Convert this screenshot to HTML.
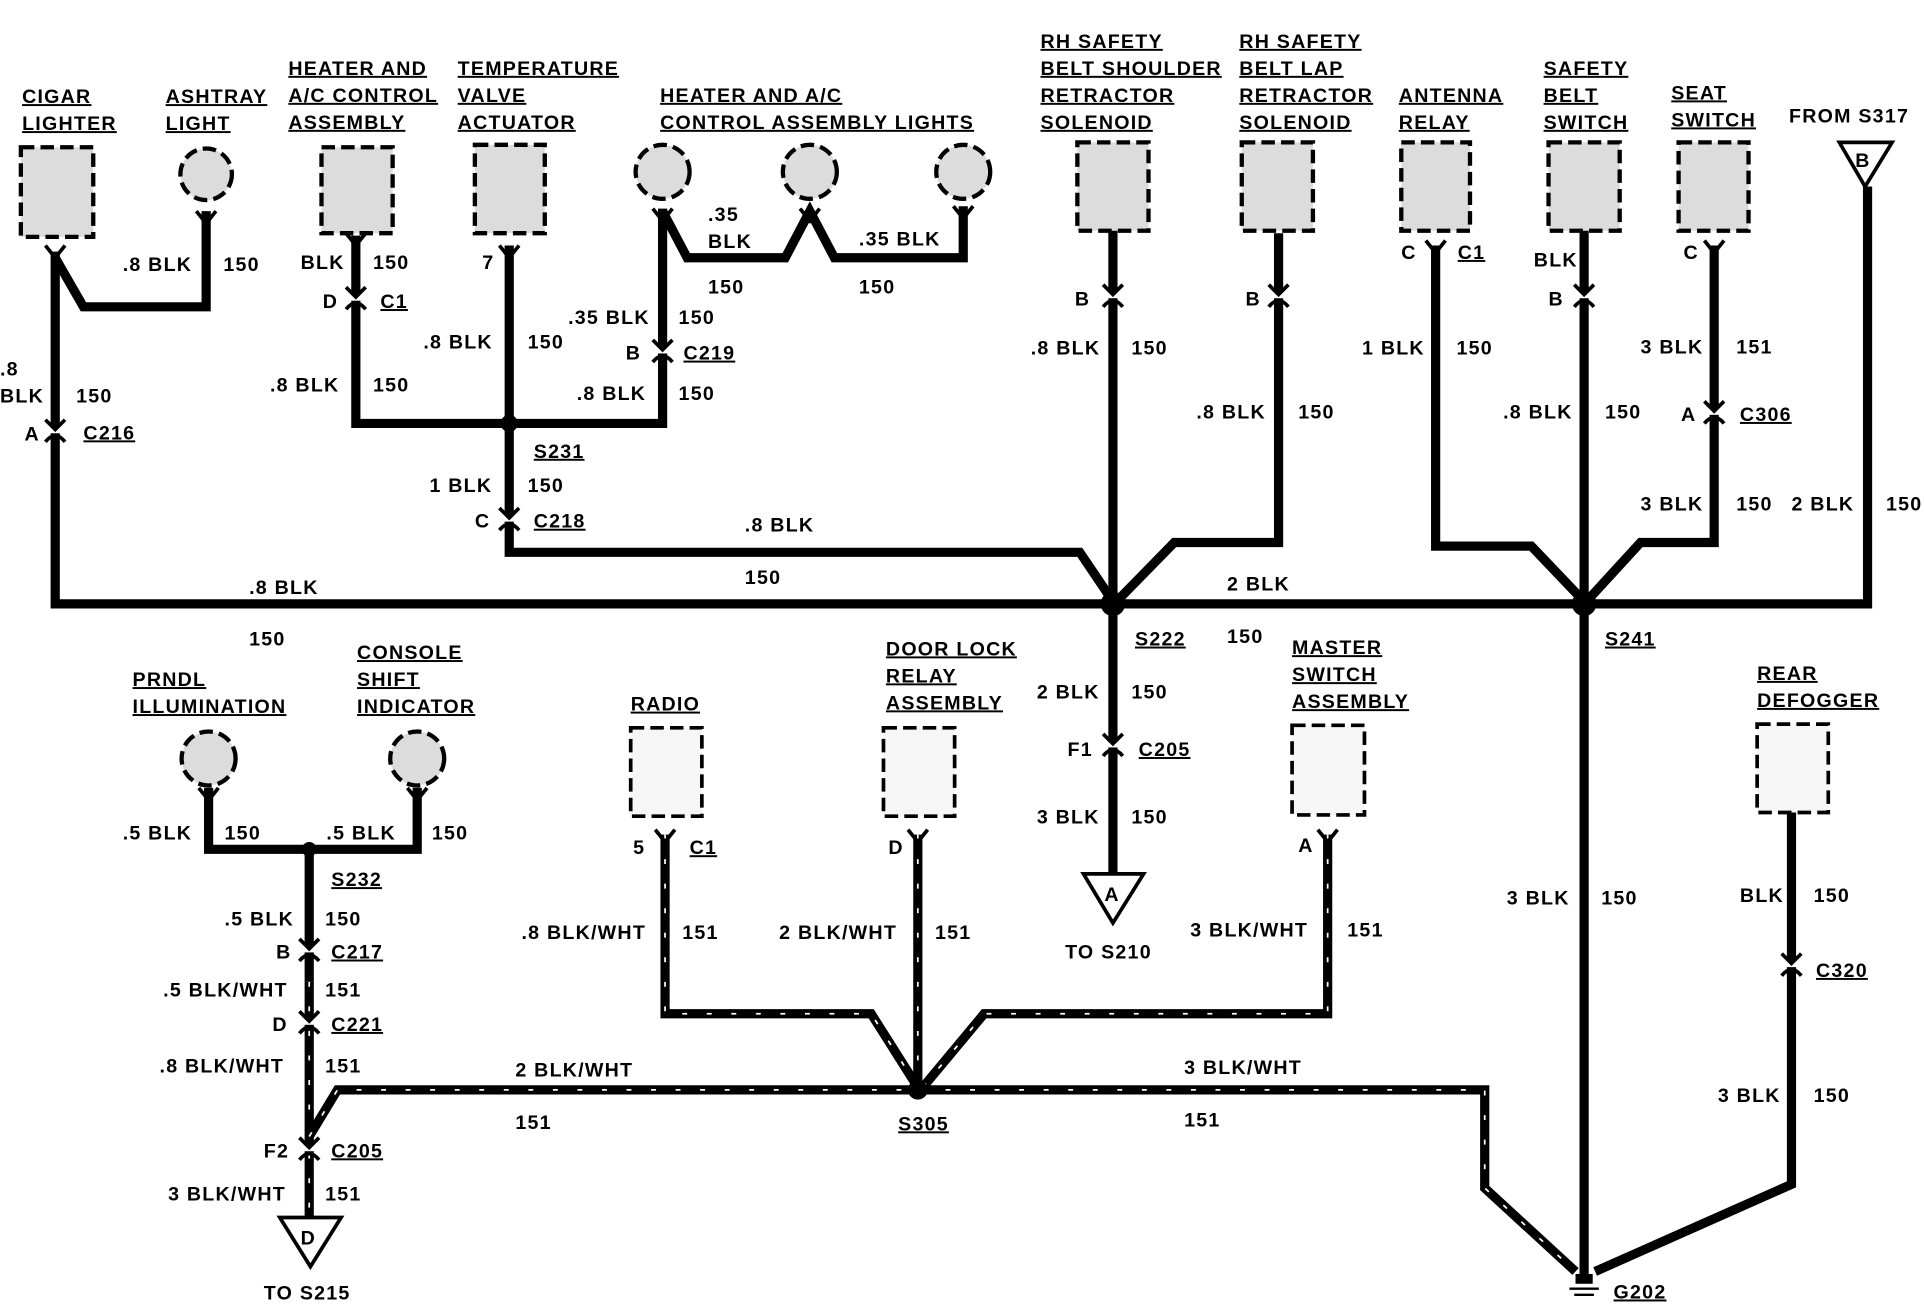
<!DOCTYPE html>
<html><head><meta charset="utf-8"><style>
html,body{margin:0;padding:0;background:#fff}
svg{display:block}
text{font-family:"Liberation Sans",sans-serif;font-weight:bold;font-size:16px;fill:#000;letter-spacing:1px}
.u{text-decoration:underline}
.w{fill:none;stroke:#000;stroke-width:7.5;stroke-linejoin:miter}
.h{fill:none;stroke:#fff;stroke-width:1.4;stroke-dasharray:4 16}
.bx{fill:#dcdcdc;stroke:#000;stroke-width:3.5;stroke-dasharray:11 5}
.bl{fill:#f6f6f6;stroke:#000;stroke-width:3;stroke-dasharray:11 5}
.c{fill:none;stroke:#000;stroke-width:3}
</style></head><body>
<svg width="1924" height="1312" viewBox="0 0 1568 1069" preserveAspectRatio="none">
<rect width="1568" height="1069" fill="#fff"/>
<rect class="bx" x="17" y="120" width="59" height="73"/>
<circle class="bx" cx="168" cy="142" r="21"/>
<rect class="bx" x="262" y="120" width="58" height="70"/>
<rect class="bx" x="387" y="118" width="57" height="72"/>
<circle class="bx" cx="540" cy="140" r="22"/>
<circle class="bx" cx="660" cy="140" r="22"/>
<circle class="bx" cx="785" cy="140" r="22"/>
<rect class="bx" x="878" y="116" width="58" height="72"/>
<rect class="bx" x="1012" y="116" width="58" height="72"/>
<rect class="bx" x="1142" y="116" width="56" height="72"/>
<rect class="bx" x="1262" y="116" width="58" height="72"/>
<rect class="bx" x="1368" y="116" width="57" height="72"/>
<polygon points="1499,116 1542,116 1520,152" fill="#fff" stroke="#000" stroke-width="3"/>
<text x="1512" y="136">B</text>
<circle class="bx" cx="170" cy="618" r="22"/>
<circle class="bx" cx="340" cy="618" r="22"/>
<rect class="bl" x="514" y="593" width="58" height="72"/>
<rect class="bl" x="720" y="593" width="58" height="72"/>
<rect class="bl" x="1053" y="591" width="59" height="73"/>
<rect class="bl" x="1432" y="590" width="58" height="72"/>

<polyline class="w" points="45,205 45,492 1522,492 1522,152"/>
<polyline class="w" points="45,210 68,250 168,250 168,172"/>
<polyline class="w" points="290,192 290,345 540,345 540,170"/>
<polyline class="w" points="415,200 415,450 880,450 907,490"/>
<polyline class="w" points="540,172 560,210 640,210 660,172 680,210 785,210 785,168"/>
<polyline class="w" points="907,188 907,712"/>
<polyline class="w" points="1042,190 1042,442 957,442 910,490"/>
<polyline class="w" points="1170,200 1170,445 1248,445 1291,490"/>
<polyline class="w" points="1291,188 1291,1042"/>
<polyline class="w" points="1397,200 1397,442 1337,442 1293,490"/>
<polyline class="w" points="170,642 170,692 340,692 340,642"/>
<polyline class="w" points="252,692 252,800"/>
<polyline class="w" points="1460,662 1460,965 1300,1036"/>
<polyline class="w" points="252,800 252,992"/>
<polyline class="h" points="252,800 252,992"/>
<polyline class="w" points="252,926 275,888 1210,888 1210,968 1284,1036"/>
<polyline class="h" points="252,926 275,888 1210,888 1210,968 1284,1036"/>
<polyline class="w" points="542,680 542,826 710,826 748,886"/>
<polyline class="h" points="542,680 542,826 710,826 748,886"/>
<polyline class="w" points="748,680 748,888"/>
<polyline class="h" points="748,680 748,888"/>
<polyline class="w" points="1082,680 1082,826 802,826 752,886"/>
<polyline class="h" points="1082,680 1082,826 802,826 752,886"/>

<circle cx="415" cy="345" r="7"/><circle cx="907" cy="492" r="10"/><circle cx="1291" cy="492" r="10"/>
<circle cx="252" cy="692" r="6"/><circle cx="748" cy="888" r="8"/>

<g class="c">
<path d="M37,200 L45,210 L53,200"/>
<path d="M160,172 L168,182 L176,172"/>
<path d="M282,190 L290,200 L298,190"/>
<path d="M407,200 L415,210 L423,200"/>
<path d="M532,170 L540,180 L548,170"/>
<path d="M652,170 L660,180 L668,170"/>
<path d="M777,168 L785,178 L793,168"/>
<path d="M1162,196 L1170,206 L1178,196"/>
<path d="M1389,196 L1397,206 L1405,196"/>
<path d="M534,676 L542,686 L550,676"/>
<path d="M740,676 L748,686 L756,676"/>
<path d="M1074,676 L1082,686 L1090,676"/>
<path d="M162,642 L170,652 L178,642"/><path d="M332,642 L340,652 L348,642"/>
</g>
<g>
<rect x="38" y="348" width="14" height="5" fill="#fff"/>
<rect x="283" y="240" width="14" height="5" fill="#fff"/>
<rect x="408" y="420" width="14" height="5" fill="#fff"/>
<rect x="533" y="283" width="14" height="5" fill="#fff"/>
<rect x="900" y="238" width="14" height="5" fill="#fff"/>
<rect x="1035" y="238" width="14" height="5" fill="#fff"/>
<rect x="1284" y="238" width="14" height="5" fill="#fff"/>
<rect x="1390" y="333" width="14" height="5" fill="#fff"/>
<rect x="900" y="604" width="14" height="5" fill="#fff"/>
<rect x="245" y="771" width="14" height="5" fill="#fff"/>
<rect x="245" y="830" width="14" height="5" fill="#fff"/>
<rect x="245" y="933" width="14" height="5" fill="#fff"/>
<rect x="1453" y="783" width="14" height="5" fill="#fff"/>
</g>
<g class="c">
<path d="M37,342 L45,350 L53,342"/><path d="M37,360 Q45,350 53,360"/>
<path d="M282,234 L290,242 L298,234"/><path d="M282,252 Q290,242 298,252"/>
<path d="M407,414 L415,422 L423,414"/><path d="M407,432 Q415,422 423,432"/>
<path d="M532,277 L540,285 L548,277"/><path d="M532,295 Q540,285 548,295"/>
<path d="M899,232 L907,240 L915,232"/><path d="M899,250 Q907,240 915,250"/>
<path d="M1034,232 L1042,240 L1050,232"/><path d="M1034,250 Q1042,240 1050,250"/>
<path d="M1283,232 L1291,240 L1299,232"/><path d="M1283,250 Q1291,240 1299,250"/>
<path d="M1389,327 L1397,335 L1405,327"/><path d="M1389,345 Q1397,335 1405,345"/>
<path d="M899,598 L907,606 L915,598"/><path d="M899,616 Q907,606 915,616"/>
<path d="M244,765 L252,773 L260,765"/><path d="M244,783 Q252,773 260,783"/>
<path d="M244,824 L252,832 L260,824"/><path d="M244,842 Q252,832 260,842"/>
<path d="M244,927 L252,935 L260,927"/><path d="M244,945 Q252,935 260,945"/>
<path d="M1452,777 L1460,785 L1468,777"/><path d="M1452,795 Q1460,785 1468,795"/>
</g>
<polygon points="883,712 932,712 907,752" fill="#fff" stroke="#000" stroke-width="3"/>
<text x="900" y="734">A</text>
<polygon points="228,992 278,992 253,1032" fill="#fff" stroke="#000" stroke-width="3"/>
<text x="245" y="1014">D</text>
<rect x="1284" y="1038" width="14" height="8"/>
<line x1="1279" y1="1050" x2="1303" y2="1050" stroke="#000" stroke-width="2"/>
<line x1="1283" y1="1055" x2="1299" y2="1055" stroke="#000" stroke-width="2"/>

<text class="u" x="18" y="84">CIGAR</text><text class="u" x="18" y="106">LIGHTER</text>
<text class="u" x="135" y="84">ASHTRAY</text><text class="u" x="135" y="106">LIGHT</text>
<text class="u" x="235" y="61">HEATER AND</text><text class="u" x="235" y="83">A/C CONTROL</text><text class="u" x="235" y="105">ASSEMBLY</text>
<text class="u" x="373" y="61">TEMPERATURE</text><text class="u" x="373" y="83">VALVE</text><text class="u" x="373" y="105">ACTUATOR</text>
<text class="u" x="538" y="83">HEATER AND A/C</text><text class="u" x="538" y="105">CONTROL ASSEMBLY LIGHTS</text>
<text class="u" x="848" y="39">RH SAFETY</text><text class="u" x="848" y="61">BELT SHOULDER</text><text class="u" x="848" y="83">RETRACTOR</text><text class="u" x="848" y="105">SOLENOID</text>
<text class="u" x="1010" y="39">RH SAFETY</text><text class="u" x="1010" y="61">BELT LAP</text><text class="u" x="1010" y="83">RETRACTOR</text><text class="u" x="1010" y="105">SOLENOID</text>
<text class="u" x="1140" y="83">ANTENNA</text><text class="u" x="1140" y="105">RELAY</text>
<text class="u" x="1258" y="61">SAFETY</text><text class="u" x="1258" y="83">BELT</text><text class="u" x="1258" y="105">SWITCH</text>
<text class="u" x="1362" y="81">SEAT</text><text class="u" x="1362" y="103">SWITCH</text>
<text x="1458" y="100">FROM S317</text>

<text x="0" y="306">.8</text><text x="0" y="328">BLK</text><text x="62" y="328">150</text>
<text x="20" y="359">A</text><text class="u" x="68" y="358">C216</text>
<text x="100" y="221">.8 BLK</text><text x="182" y="221">150</text>
<text x="245" y="219">BLK</text><text x="304" y="219">150</text>
<text x="263" y="251">D</text><text class="u" x="310" y="251">C1</text>
<text x="220" y="319">.8 BLK</text><text x="304" y="319">150</text>
<text x="393" y="219">7</text>
<text x="345" y="284">.8 BLK</text><text x="430" y="284">150</text>
<text class="u" x="435" y="373">S231</text>
<text x="350" y="401">1 BLK</text><text x="430" y="401">150</text>
<text x="387" y="430">C</text><text class="u" x="435" y="430">C218</text>
<text x="607" y="433">.8 BLK</text><text x="607" y="476">150</text>
<text x="577" y="180">.35</text><text x="577" y="202">BLK</text><text x="577" y="239">150</text>
<text x="700" y="200">.35 BLK</text><text x="700" y="239">150</text>
<text x="463" y="264">.35 BLK</text><text x="553" y="264">150</text>
<text x="510" y="293">B</text><text class="u" x="557" y="293">C219</text>
<text x="470" y="326">.8 BLK</text><text x="553" y="326">150</text>
<text x="876" y="249">B</text>
<text x="840" y="289">.8 BLK</text><text x="922" y="289">150</text>
<text x="1015" y="249">B</text>
<text x="975" y="341">.8 BLK</text><text x="1058" y="341">150</text>
<text x="1000" y="481">2 BLK</text><text x="1000" y="524">150</text>
<text x="1142" y="211">C</text><text class="u" x="1188" y="211">C1</text>
<text x="1110" y="289">1 BLK</text><text x="1187" y="289">150</text>
<text x="1250" y="217">BLK</text><text x="1262" y="249">B</text>
<text x="1225" y="341">.8 BLK</text><text x="1308" y="341">150</text>
<text x="1372" y="211">C</text>
<text x="1337" y="288">3 BLK</text><text x="1415" y="288">151</text>
<text x="1370" y="343">A</text><text class="u" x="1418" y="343">C306</text>
<text x="1337" y="416">3 BLK</text><text x="1415" y="416">150</text>
<text x="1460" y="416">2 BLK</text><text x="1537" y="416">150</text>
<text x="203" y="484">.8 BLK</text><text x="203" y="526">150</text>
<text class="u" x="925" y="526">S222</text>
<text class="u" x="1308" y="526">S241</text>

<text x="845" y="569">2 BLK</text><text x="922" y="569">150</text>
<text x="870" y="616">F1</text><text class="u" x="928" y="616">C205</text>
<text x="845" y="671">3 BLK</text><text x="922" y="671">150</text>
<text x="868" y="781">TO S210</text>

<text class="u" x="108" y="559">PRNDL</text><text class="u" x="108" y="581">ILLUMINATION</text>
<text class="u" x="291" y="537">CONSOLE</text><text class="u" x="291" y="559">SHIFT</text><text class="u" x="291" y="581">INDICATOR</text>
<text x="100" y="684">.5 BLK</text><text x="183" y="684">150</text>
<text x="266" y="684">.5 BLK</text><text x="352" y="684">150</text>
<text class="u" x="270" y="722">S232</text>
<text x="183" y="754">.5 BLK</text><text x="265" y="754">150</text>
<text x="225" y="781">B</text><text class="u" x="270" y="781">C217</text>
<text x="133" y="812">.5 BLK/WHT</text><text x="265" y="812">151</text>
<text x="222" y="840">D</text><text class="u" x="270" y="840">C221</text>
<text x="130" y="874">.8 BLK/WHT</text><text x="265" y="874">151</text>
<text x="215" y="943">F2</text><text class="u" x="270" y="943">C205</text>
<text x="137" y="978">3 BLK/WHT</text><text x="265" y="978">151</text>
<text x="215" y="1059">TO S215</text>

<text class="u" x="514" y="579">RADIO</text>
<text x="516" y="696">5</text><text class="u" x="562" y="696">C1</text>
<text x="425" y="765">.8 BLK/WHT</text><text x="556" y="765">151</text>
<text class="u" x="722" y="534">DOOR LOCK</text><text class="u" x="722" y="556">RELAY</text><text class="u" x="722" y="578">ASSEMBLY</text>
<text x="724" y="696">D</text>
<text x="635" y="765">2 BLK/WHT</text><text x="762" y="765">151</text>
<text class="u" x="1053" y="533">MASTER</text><text class="u" x="1053" y="555">SWITCH</text><text class="u" x="1053" y="577">ASSEMBLY</text>
<text x="1058" y="694">A</text>
<text x="970" y="763">3 BLK/WHT</text><text x="1098" y="763">151</text>
<text x="420" y="877">2 BLK/WHT</text><text x="420" y="920">151</text>
<text class="u" x="732" y="921">S305</text>
<text x="965" y="875">3 BLK/WHT</text><text x="965" y="918">151</text>
<text class="u" x="1432" y="554">REAR</text><text class="u" x="1432" y="576">DEFOGGER</text>
<text x="1418" y="735">BLK</text><text x="1478" y="735">150</text>
<text class="u" x="1480" y="796">C320</text>
<text x="1400" y="898">3 BLK</text><text x="1478" y="898">150</text>
<text x="1228" y="737">3 BLK</text><text x="1305" y="737">150</text>
<text class="u" x="1315" y="1058">G202</text>
</svg>
</body></html>
